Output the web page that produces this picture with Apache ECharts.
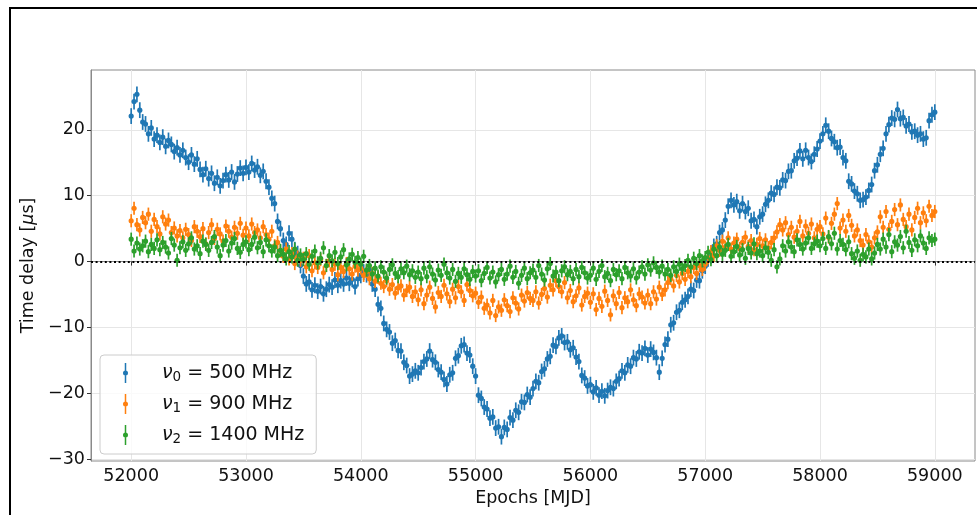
<!DOCTYPE html>
<html>
<head>
<meta charset="utf-8">
<script src="https://cdn.jsdelivr.net/npm/echarts@6/dist/echarts.min.js"></script>
<style>
  html, body { margin: 0; padding: 0; background: #fff; }
  #chart { width: 977px; height: 515px; }
</style>
</head>
<body>
<div id="chart"></div>
<script>
// Observation epochs (MJD), one row per 500 days
const epochs = [
  52000, 52025, 52050, 52075, 52100, 52125, 52150, 52175, 52200, 52225, 52250, 52275, 52300, 52325, 52350, 52375, 52400, 52425, 52450, 52475,
  52500, 52525, 52550, 52575, 52600, 52625, 52650, 52675, 52700, 52725, 52750, 52775, 52800, 52825, 52850, 52875, 52900, 52925, 52950, 52975,
  53000, 53025, 53050, 53075, 53100, 53125, 53150, 53175, 53200, 53225, 53250, 53275, 53300, 53325, 53350, 53375, 53400, 53425, 53450, 53475,
  53500, 53525, 53550, 53575, 53600, 53625, 53650, 53675, 53700, 53725, 53750, 53775, 53800, 53825, 53850, 53875, 53900, 53925, 53950, 53975,
  54000, 54025, 54050, 54075, 54100, 54125, 54150, 54175, 54200, 54225, 54250, 54275, 54300, 54325, 54350, 54375, 54400, 54425, 54450, 54475,
  54500, 54525, 54550, 54575, 54600, 54625, 54650, 54675, 54700, 54725, 54750, 54775, 54800, 54825, 54850, 54875, 54900, 54925, 54950, 54975,
  55000, 55025, 55050, 55075, 55100, 55125, 55150, 55175, 55200, 55225, 55250, 55275, 55300, 55325, 55350, 55375, 55400, 55425, 55450, 55475,
  55500, 55525, 55550, 55575, 55600, 55625, 55650, 55675, 55700, 55725, 55750, 55775, 55800, 55825, 55850, 55875, 55900, 55925, 55950, 55975,
  56000, 56025, 56050, 56075, 56100, 56125, 56150, 56175, 56200, 56225, 56250, 56275, 56300, 56325, 56350, 56375, 56400, 56425, 56450, 56475,
  56500, 56525, 56550, 56575, 56600, 56625, 56650, 56675, 56700, 56725, 56750, 56775, 56800, 56825, 56850, 56875, 56900, 56925, 56950, 56975,
  57000, 57025, 57050, 57075, 57100, 57125, 57150, 57175, 57200, 57225, 57250, 57275, 57300, 57325, 57350, 57375, 57400, 57425, 57450, 57475,
  57500, 57525, 57550, 57575, 57600, 57625, 57650, 57675, 57700, 57725, 57750, 57775, 57800, 57825, 57850, 57875, 57900, 57925, 57950, 57975,
  58000, 58025, 58050, 58075, 58100, 58125, 58150, 58175, 58200, 58225, 58250, 58275, 58300, 58325, 58350, 58375, 58400, 58425, 58450, 58475,
  58500, 58525, 58550, 58575, 58600, 58625, 58650, 58675, 58700, 58725, 58750, 58775, 58800, 58825, 58850, 58875, 58900, 58925, 58950, 58975,
  59000
];

// Time delays (microseconds) at 500 MHz
const delay500 = [
  22.1, 24.3, 25.4, 23.0, 21.2, 20.9, 19.4, 20.3, 18.6, 19.2, 18.1, 18.9, 17.5, 18.4, 17.8, 16.7, 17.3, 16.2, 16.9, 15.8,
  15.1, 16.2, 14.8, 15.6, 14.0, 13.2, 14.1, 12.6, 13.4, 11.9, 12.8, 11.5, 12.3, 13.2, 12.4, 13.6, 12.1, 13.3, 14.2, 13.4,
  14.3, 13.6, 14.9, 13.9, 14.4, 13.1, 13.7, 12.2, 11.3, 9.6, 8.8, 6.1, 5.0, 3.2, 2.6, 4.3, 3.4, 1.8, 1.2, -0.6,
  -2.2, -3.4, -3.1, -4.3, -3.6, -4.5, -3.8, -4.9, -4.2, -3.5, -3.9, -2.8, -3.6, -2.9, -3.4, -2.5, -3.3, -2.7, -3.8, -2.6,
  -2.1, -1.6, -2.0, -1.3, -3.4, -4.2, -6.5, -7.1, -9.4, -10.3, -10.7, -12.4, -12.0, -13.5, -13.6, -15.3, -15.8, -17.4, -17.1, -16.6,
  -16.9, -16.1, -15.2, -14.8, -13.6, -14.9, -15.3, -16.4, -16.8, -17.9, -18.6, -17.2, -16.9, -14.7, -14.3, -12.8, -12.6, -13.9, -14.2, -15.9,
  -17.4, -20.3, -20.8, -22.1, -22.4, -23.8, -23.6, -25.3, -25.1, -26.6, -25.2, -25.5, -23.7, -24.1, -22.6, -22.9, -21.3, -21.4, -20.2, -20.6,
  -19.3, -18.2, -18.4, -16.7, -16.3, -14.8, -14.4, -12.7, -12.9, -11.6, -11.3, -12.3, -12.2, -13.4, -13.1, -14.5, -15.2, -17.3, -17.7, -18.9,
  -18.7, -19.8, -19.2, -20.3, -19.7, -20.4, -19.6, -19.1, -19.3, -18.2, -17.8, -16.6, -16.9, -15.7, -15.9, -14.6, -14.8, -13.7, -13.9, -13.2,
  -14.2, -13.3, -13.8, -14.6, -16.8, -14.7, -12.6, -11.8, -9.6, -9.3, -7.7, -7.4, -6.2, -5.8, -5.3, -4.2, -4.4, -2.8, -2.9, -1.4,
  -0.7, 0.4, 0.8, 2.3, 2.7, 4.4, 4.8, 6.3, 8.4, 9.3, 8.6, 9.1, 7.7, 8.8, 7.6, 8.1, 6.2, 6.4, 5.3, 6.8,
  7.2, 8.7, 9.3, 10.4, 10.2, 11.3, 11.2, 12.4, 12.3, 13.7, 13.8, 15.3, 15.7, 16.8, 15.6, 16.9, 15.8, 15.2, 16.3, 17.1,
  18.3, 19.4, 20.7, 19.8, 18.7, 18.2, 17.3, 17.4, 15.8, 15.3, 12.2, 11.8, 10.7, 10.3, 9.3, 9.4, 9.8, 10.8, 11.7, 13.8,
  14.7, 16.3, 17.2, 19.4, 20.8, 21.8, 21.6, 23.1, 21.7, 21.9, 20.6, 20.9, 19.7, 19.8, 19.2, 19.4, 18.6, 18.8, 21.4, 22.3,
  22.7
];

// Time delays (microseconds) at 900 MHz
const delay900 = [
  6.2, 8.1, 5.6, 4.8, 6.7, 5.9, 7.2, 4.6, 6.4, 5.3, 4.2, 6.8, 5.7, 6.3, 4.4, 5.1, 3.9, 4.7, 3.6, 4.9,
  4.1, 3.2, 5.3, 4.6, 3.8, 5.0, 2.7, 4.4, 5.6, 3.5, 4.9, 4.2, 3.1, 5.4, 4.6, 3.7, 5.2, 4.3, 5.8, 4.0,
  5.1, 3.9, 5.7, 4.4, 4.8, 3.6, 5.3, 4.1, 3.4, 4.6, 2.4, 2.9, 1.6, 0.8, 1.9, 0.4, 1.2, -0.3, 0.7, 0.2,
  0.5, -0.8, 0.9, -1.4, -0.2, -0.9, 0.3, -1.7, -0.6, 0.1, -1.2, -0.4, -2.0, -0.9, -1.5, -0.3, -1.1, -1.9, -0.7, -1.3,
  -1.0, -2.1, -1.5, -2.6, -1.8, -3.0, -2.4, -3.3, -3.8, -2.9, -4.2, -3.5, -4.8, -4.0, -3.7, -5.1, -4.4, -3.9, -5.3, -4.6,
  -5.8, -4.3, -6.4, -5.1, -3.9, -5.6, -6.9, -4.7, -5.3, -3.6, -4.9, -6.1, -4.2, -5.5, -3.8, -4.6, -5.9, -3.5, -4.4, -5.2,
  -4.8, -6.2, -5.4, -7.1, -6.6, -7.8, -5.9, -8.2, -6.9, -7.4, -5.8, -6.7, -7.6, -5.5, -6.3, -7.2, -5.1, -6.0, -4.7, -5.6,
  -5.9, -4.6, -6.3, -5.0, -4.1, -5.4, -3.6, -4.3, -2.9, -3.8, -4.6, -3.2, -5.5, -4.4, -6.1, -5.2, -4.0, -6.6, -5.3, -4.8,
  -6.2, -4.9, -7.3, -5.6, -6.8, -4.5, -5.9, -8.1, -5.2, -6.4, -4.7, -7.0, -5.5, -6.1, -4.3, -5.8, -6.7, -4.9, -5.4, -6.3,
  -5.1, -6.4, -4.6, -5.7, -3.9, -5.0, -4.3, -3.2, -2.6, -3.7, -2.1, -3.1, -1.8, -2.7, -1.5, -2.3, -0.9, -1.8, -0.6, -1.2,
  -0.4, 0.6, 1.5, 0.9, 2.4, 1.7, 3.1, 2.2, 3.6, 1.9, 2.8, 3.4, 2.0, 2.9, 3.7, 2.3, 3.2, 1.8, 2.6, 3.5,
  2.4, 3.3, 2.1, 2.9, 3.6, 4.5, 5.6, 4.8, 5.9, 4.1, 5.2, 3.7, 4.6, 6.1, 3.9, 5.4, 4.3, 5.7, 3.6, 4.9,
  5.3, 4.2, 6.6, 3.7, 5.8, 7.2, 8.8, 5.1, 6.3, 4.6, 7.0, 5.5, 3.9, 4.8, 3.2, 2.5, 4.1, 3.0, 2.2, 3.6,
  4.5, 6.8, 5.2, 7.6, 4.9, 6.1, 7.9, 5.6, 8.6, 6.4, 5.3, 7.2, 4.8, 6.7, 8.1, 5.9, 7.4, 6.2, 8.4, 7.0,
  7.6
];

// Time delays (microseconds) at 1400 MHz
const delay1400 = [
  3.4, 1.6, 2.8, 1.9, 2.4, 3.1, 1.5, 2.6, 2.0, 3.3, 1.8, 2.9, 2.2, 1.3, 3.5, 2.5, 0.2, 2.1, 3.0, 1.7,
  2.7, 3.6, 1.9, 2.4, 1.2, 3.1, 2.6, 1.7, 2.9, 3.8, 2.2, 0.9, 2.5, 3.2, 1.6, 2.8, 3.5, 2.0, 1.4, 2.6,
  3.0, 1.8, 2.6, 3.7, 2.1, 2.9, 1.5, 3.3, 2.4, 1.6, 2.2, 0.9, 1.7, 1.1, 0.4, 1.5, 0.7, 1.9, 0.2, 1.0,
  0.3, 1.2, -0.4, 0.8, 1.6, -0.2, 0.5, 2.1, -0.6, 0.9, 0.1, 1.4, -0.3, 0.7, 1.8, -0.5, 0.4, 1.1, -0.1, 0.6,
  -0.4, 0.8, -1.3, -0.6, -1.9, -1.0, -2.2, -0.8, -1.6, -2.5, -1.2, -0.5, -1.8, -2.3, -1.1, -1.7, -0.7, -2.0, -1.4, -2.4,
  -1.6, -2.6, -1.0, -2.3, -0.8, -1.9, -2.8, -1.3, -2.1, -0.4, -1.7, -2.5, -1.2, -3.0, -1.8, -2.4, -1.1, -2.0, -2.7, -1.5,
  -2.2, -1.4, -2.9, -1.8, -0.9, -2.5, -1.6, -3.1, -2.0, -1.2, -2.7, -1.9, -0.7, -2.4, -1.5, -3.3, -2.1, -1.0, -2.6, -1.7,
  -1.3, -2.4, -0.6, -1.9, -2.8, -1.1, -0.3, -2.2, -1.6, -2.9, -1.4, -0.8, -2.0, -1.5, -2.6, -1.2, -2.3, -0.9, -1.7, -2.5,
  -2.1, -1.0, -2.7, -1.5, -0.6, -2.3, -1.8, -2.9, -1.2, -2.0, -1.4, -2.6, -0.9, -1.7, -2.2, -1.1, -2.5, -1.6, -0.8, -1.9,
  -0.5, -1.3, -0.2, -0.9, -1.6, -0.7, -1.9, -1.2, -2.1, -0.8, -1.5, -0.4, -1.1, -0.6, 0.2, -0.8, 0.5, -0.3, 0.9, 0.1,
  0.6, 1.4, 0.3, 1.9, 0.9, 2.2, 1.1, 1.7, 2.6, 0.8, 1.5, 2.3, 1.0, 1.8, 0.5, 2.0, 1.3, 2.7, 1.2, 1.6,
  0.9, 2.1, 1.4, 0.2, 1.8, -0.8, 0.4, 2.4, 1.6, 3.0, 2.2, 1.5, 3.3, 2.6, 1.9, 2.8, 3.6, 2.0, 2.7, 3.1,
  2.4, 3.5, 2.0, 3.8, 2.7, 4.3, 1.9, 3.2, 2.6, 1.8, 3.0, 1.2, 0.5, 1.6, 0.2, 1.1, 0.7, 1.9, 0.4, 1.3,
  2.6, 1.9, 3.4, 2.2, 4.1, 1.5, 3.0, 2.5, 3.8, 2.1, 4.6, 2.9, 1.7, 3.3, 2.4, 3.9, 2.8, 2.0, 3.6, 3.2,
  3.4
];

// Per-frequency measurement uncertainty (microseconds)
const errors = [1.2, 1.0, 1.0];
const frequencies = [500, 900, 1400];
const colors = ['#1f77b4', '#ff7f0e', '#2ca02c'];

const xTicks = [52000, 53000, 54000, 55000, 56000, 57000, 58000, 59000];
const yTicks = [-30, -20, -10, 0, 10, 20];

const FONT = 'DejaVu Sans';
const AXIS_FONT_SIZE = 17.5;
const LEGEND_FONT_SIZE = 19;
const seriesNames = frequencies.map((f, i) => 'nu' + i + ' = ' + f + ' MHz');
const seriesValues = [delay500, delay900, delay1400];

function errorBarRenderer(err, color) {
  return function (params, api) {
    const x = api.value(0);
    const y = api.value(1);
    const c = api.coord([x, y]);
    const lo = api.coord([x, y - err]);
    const hi = api.coord([x, y + err]);
    return {
      type: 'group',
      children: [
        { type: 'line', shape: { x1: c[0], y1: lo[1], x2: c[0], y2: hi[1] },
          style: { stroke: color, lineWidth: 1.7 } },
        { type: 'circle', shape: { cx: c[0], cy: c[1], r: 2.6 },
          style: { fill: color } }
      ]
    };
  };
}

const series = seriesValues.map((vals, i) => ({
  name: seriesNames[i],
  type: 'custom',
  renderItem: errorBarRenderer(errors[i], colors[i]),
  itemStyle: { color: colors[i] },
  encode: { x: 0, y: 1 },
  clip: true,
  data: vals.map((v, k) => [epochs[k], v])
}));

// dotted zero reference line
series.push({
  type: 'line',
  data: [],
  silent: true,
  z: 10,
  markLine: {
    silent: true,
    symbol: 'none',
    label: { show: false },
    lineStyle: { color: '#000', width: 2, type: [2, 2.6] },
    data: [{ yAxis: 0 }]
  }
});

const minus = v => (v < 0 ? '\u2212' + Math.abs(v) : String(v));

const errIcon = 'path://M3.25,0 L4.75,0 L4.75,20 L3.25,20 Z M6.5,10 A2.5,2.5 0 1,1 1.5,10 A2.5,2.5 0 1,1 6.5,10 Z';

const chart = echarts.init(document.getElementById('chart'), null, { renderer: 'canvas' });
chart.setOption({
  animation: false,
  backgroundColor: '#fff',
  textStyle: { fontFamily: FONT },
  graphic: [{
    type: 'rect',
    shape: { x: 10, y: 8, width: 1000, height: 600 },
    style: { fill: 'none', stroke: '#000', lineWidth: 2 },
    z: 100
  }],
  grid: {
    left: 91, right: 2, top: 70, bottom: 54,
    show: true, borderColor: '#8a8a8a', borderWidth: 1, backgroundColor: 'transparent'
  },
  legend: {
    orient: 'vertical',
    left: 100, top: 355,
    padding: [8, 12, 8, 23],
    itemGap: 10,
    itemWidth: 5, itemHeight: 20,
    selectedMode: false,
    backgroundColor: 'rgba(255,255,255,0.8)',
    borderColor: '#cccccc', borderWidth: 1, borderRadius: 4,
    data: seriesNames.map(n => ({ name: n, icon: errIcon })),
    formatter: function (name) {
      const i = seriesNames.indexOf(name);
      return '{nu|\u03bd}{sub|' + i + '}{t| = ' + frequencies[i] + ' MHz}';
    },
    textStyle: {
      padding: [0, 0, 0, 29],
      rich: {
        nu: { fontFamily: FONT, fontSize: LEGEND_FONT_SIZE, fontStyle: 'italic', color: '#111', lineHeight: 22 },
        sub: { fontFamily: FONT, fontSize: 13.5, color: '#111', lineHeight: 12, verticalAlign: 'bottom' },
        t: { fontFamily: FONT, fontSize: LEGEND_FONT_SIZE, color: '#111', lineHeight: 22 }
      }
    }
  },
  xAxis: {
    type: 'value',
    min: 51650, max: 59350,
    name: 'Epochs [MJD]',
    nameLocation: 'middle',
    nameGap: 28,
    nameTextStyle: { fontFamily: FONT, fontSize: AXIS_FONT_SIZE, color: '#111' },
    axisLine: { show: true, lineStyle: { color: '#8a8a8a', width: 1 } },
    axisTick: { show: true, length: 4, customValues: xTicks, lineStyle: { color: '#333' } },
    axisLabel: { customValues: xTicks, margin: 6, fontFamily: FONT, fontSize: AXIS_FONT_SIZE, color: '#111', formatter: minus },
    splitLine: { show: true, lineStyle: { color: '#e6e6e6', width: 1 } }
  },
  yAxis: {
    type: 'value',
    min: -30.3, max: 29.1,
    name: 'Time delay [{it|\u03bc}s]',
    nameLocation: 'middle',
    nameGap: 50,
    nameTextStyle: {
      fontFamily: FONT, fontSize: AXIS_FONT_SIZE, color: '#111',
      rich: { it: { fontFamily: FONT, fontSize: AXIS_FONT_SIZE, fontStyle: 'italic', color: '#111' } }
    },
    axisLine: { show: true, lineStyle: { color: '#8a8a8a', width: 1 } },
    axisTick: { show: true, length: 4, customValues: yTicks, lineStyle: { color: '#333' } },
    axisLabel: { customValues: yTicks, margin: 6, fontFamily: FONT, fontSize: AXIS_FONT_SIZE, color: '#111', formatter: minus },
    splitLine: { show: true, lineStyle: { color: '#e6e6e6', width: 1 } }
  },
  series: series
});
</script>
</body>
</html>
